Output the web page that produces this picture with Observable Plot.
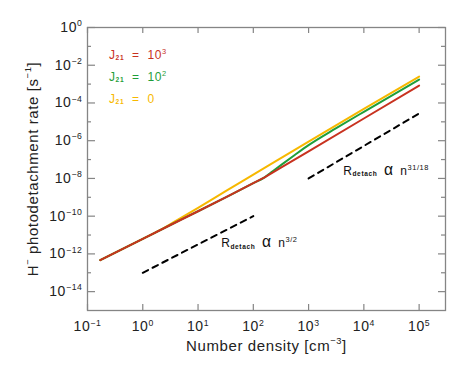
<!DOCTYPE html>
<html><head><meta charset="utf-8">
<script src="https://cdn.jsdelivr.net/npm/d3@7"></script>
<script src="https://cdn.jsdelivr.net/npm/@observablehq/plot@0.6"></script>
<style>
body{margin:0;background:#fff}
#chart svg{font-family:"Liberation Sans",Arial,Helvetica,sans-serif}
#chart svg text{letter-spacing:0.6px}
</style>
</head><body><div id="chart"></div>
<script>
// ---- data ----
const nRed   = [0.17, 1, 3.16, 10, 31.6, 100, 160, 316, 1000, 1e4, 1e5];
const rRed   = [4.7e-13, 6.3e-12, 3.4e-11, 1.82e-10, 1.0e-9, 5.6e-9, 1.15e-8, 3.7e-8, 2.75e-7, 1.5e-5, 8.3e-4];
const nGreen = [0.17, 1, 3.16, 10, 31.6, 100, 160, 224, 316, 562, 1000, 3162, 1e4, 1e5];
const rGreen = [4.7e-13, 6.3e-12, 3.4e-11, 1.82e-10, 1.0e-9, 5.6e-9, 1.15e-8, 2.4e-8, 5.1e-8, 1.75e-7, 5.8e-7, 4.6e-6, 3.4e-5, 1.74e-3];
const nYellow = [0.17, 1, 2, 3.16, 5, 10, 31.6, 100, 1000, 1e4, 1e5];
const rYellow = [4.7e-13, 6.3e-12, 1.74e-11, 3.8e-11, 8.3e-11, 2.75e-10, 2.1e-9, 1.58e-8, 8.9e-7, 4.8e-5, 2.5e-3];
const nDash1 = [1, 100],   rDash1 = [1e-13, 1e-10];
const nDash2 = [1000, 1e5], rDash2 = [1e-8, 2.78e-5];
const legendLabels = ["J_{21}\u00a0\u00a0=\u00a0\u00a010^{3}", "J_{21}\u00a0\u00a0=\u00a0\u00a010^{2}", "J_{21}\u00a0\u00a0=\u00a0\u00a00"];
const notes = [
  {n: 26.2, r: 2.2e-12, t: "R_{detach}\u2002~{α}\u2002n^{3/2}"},
  {n: 4230, r: 1.6e-8, t: "R_{detach}\u2002~{α}\u2002n^{31/18}"}
];
const xTicks = [1e-1, 1, 1e1, 1e2, 1e3, 1e4, 1e5];
const yMajor = [1, 1e-2, 1e-4, 1e-6, 1e-8, 1e-10, 1e-12, 1e-14];
const yMinor = [1e-1, 1e-3, 1e-5, 1e-7, 1e-9, 1e-11, 1e-13];
const xTitle = "Number density [cm^{−3}]";
const yTitle = "H^{−} photodetachment rate [s^{−1}]";

const RED = "#c8321f", GREEN = "#1f9e3a", YELLOW = "#f7b800", AX = "#858585", TXT = "#222";
const zip = (ns, rs) => ns.map((n, i) => ({n, r: rs[i]}));
const sup = d => { const e = Math.round(Math.log10(d)); return "10^{" + String(e).replace("-", "−") + "}"; };

const W = 471, H = 366, mL = 87, mR = 26, mT = 27, mB = 56;
const fw = W - mL - mR, fh = H - mT - mB;

const chart = Plot.plot({
  width: W, height: H,
  marginLeft: mL, marginRight: mR, marginTop: mT, marginBottom: mB,
  style: {background: "#fff", color: TXT, fontSize: "14px", overflow: "visible"},
  x: {type: "log", domain: [0.1, 3e5]},
  y: {type: "log", domain: [1e-15, 1]},
  marks: [
    Plot.axisX(xTicks, {tickSize: 0, tickPadding: 11, tickFormat: sup, label: null, fontSize: 14, fill: TXT}),
    Plot.axisY(yMajor, {tickSize: 0, tickPadding: 5, tickFormat: sup, label: null, fontSize: 14, fill: TXT}),
    // tick marks, inward, on all four sides
    Plot.tickX(xTicks, {x: d => d, insetTop: fh - 6, stroke: AX, strokeWidth: 1.2}),
    Plot.tickX(xTicks, {x: d => d, insetBottom: fh - 6, stroke: AX, strokeWidth: 1.2}),
    Plot.tickY(yMajor, {y: d => d, insetRight: fw - 8, stroke: AX, strokeWidth: 1.2}),
    Plot.tickY(yMinor, {y: d => d, insetRight: fw - 4, stroke: AX, strokeWidth: 1.2}),
    Plot.tickY(yMajor, {y: d => d, insetLeft: fw - 7, stroke: AX, strokeWidth: 1.2}),
    Plot.tickY(yMinor, {y: d => d, insetLeft: fw - 4, stroke: AX, strokeWidth: 1.2}),
    Plot.frame({stroke: AX, strokeWidth: 1.3}),
    // curves
    Plot.line(zip(nYellow, rYellow), {x: "n", y: "r", stroke: YELLOW, strokeWidth: 2, curve: "monotone-x"}),
    Plot.line(zip(nGreen, rGreen), {x: "n", y: "r", stroke: GREEN, strokeWidth: 2, curve: "monotone-x"}),
    Plot.line(zip(nRed, rRed), {x: "n", y: "r", stroke: RED, strokeWidth: 2}),
    Plot.line(zip(nDash1, rDash1), {x: "n", y: "r", stroke: "#000", strokeWidth: 2, strokeDasharray: "6,5"}),
    Plot.line(zip(nDash2, rDash2), {x: "n", y: "r", stroke: "#000", strokeWidth: 2, strokeDasharray: "6,5"}),
    // annotations
    Plot.text(notes, {x: "n", y: "r", text: "t", textAnchor: "start", lineAnchor: "bottom", fontSize: 12, fill: "#111"}),
    // legend
    Plot.text([legendLabels[0]], {frameAnchor: "top-left", dx: 21.5, dy: 31.5, textAnchor: "start", lineAnchor: "bottom", fontSize: 12, fill: RED}),
    Plot.text([legendLabels[1]], {frameAnchor: "top-left", dx: 21.5, dy: 53.5, textAnchor: "start", lineAnchor: "bottom", fontSize: 12, fill: GREEN}),
    Plot.text([legendLabels[2]], {frameAnchor: "top-left", dx: 21.5, dy: 75.3, textAnchor: "start", lineAnchor: "bottom", fontSize: 12, fill: YELLOW}),
    // axis titles
    Plot.text([xTitle], {frameAnchor: "bottom", dy: 40, textAnchor: "middle", lineAnchor: "bottom", fontSize: 15, fill: TXT}),
    Plot.text([yTitle], {frameAnchor: "left", dx: -50, rotate: -90, textAnchor: "middle", lineAnchor: "bottom", fontSize: 15, fill: TXT})
  ]
});
document.getElementById("chart").appendChild(chart);

// rich text: ^{...} superscript, _{...} subscript, ~{...} enlarged glyph
function rich(el) {
  const s = el.textContent;
  if (!/[\^_~]\{/.test(s)) return;
  const fs = parseFloat(getComputedStyle(el).fontSize) || 14;
  while (el.firstChild) el.removeChild(el.firstChild);
  const re = /([\^_~])\{([^}]*)\}/g;
  let cur = 0, last = 0, m;
  const seg = (txt, kind) => {
    if (!txt) return;
    const t = document.createElementNS("http://www.w3.org/2000/svg", "tspan");
    let target = 0;
    if (kind === "^") { target = -0.42 * fs; t.setAttribute("font-size", (0.62 * fs).toFixed(2)); }
    else if (kind === "_") { target = 0.12 * fs; t.setAttribute("font-size", (0.55 * fs).toFixed(2)); t.setAttribute("font-weight", "bold"); }
    else if (kind === "~") { t.setAttribute("font-size", (1.3 * fs).toFixed(2)); }
    const d = target - cur;
    if (d) t.setAttribute("dy", d.toFixed(2));
    cur = target;
    t.textContent = txt;
    el.appendChild(t);
  };
  while ((m = re.exec(s))) { seg(s.slice(last, m.index), ""); seg(m[2], m[1]); last = re.lastIndex; }
  seg(s.slice(last), "");
}
chart.querySelectorAll("text").forEach(rich);
</script>
</body></html>
